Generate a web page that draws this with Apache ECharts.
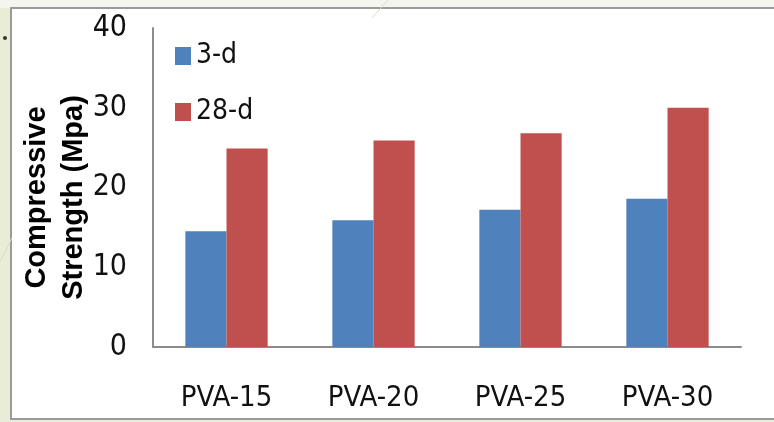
<!DOCTYPE html>
<html>
<head>
<meta charset="utf-8">
<script src="https://cdn.jsdelivr.net/npm/echarts@6/dist/echarts.min.js"></script>
<style>
  html, body { margin: 0; padding: 0; background: #eceedc; }
  #chart { width: 774px; height: 422px; }
</style>
</head>
<body>
<div id="chart"></div>
<script>
var categories = ['PVA-15', 'PVA-20', 'PVA-25', 'PVA-30'];
var day3 = [14.5, 15.9, 17.2, 18.6];
var day28 = [24.9, 25.9, 26.8, 30.0];

var font = '"Liberation Sans Narrow", "DejaVu Sans Condensed", "Liberation Sans", sans-serif';

var chart = echarts.init(document.getElementById('chart'));

var option = {
  backgroundColor: '#e9edd8',
  animation: false,
  graphic: [
    { type: 'rect', shape: { x: 0, y: 0, width: 774, height: 8 }, style: { fill: '#f4f5ec' }, z: -2 },
    { type: 'line', shape: { x1: 388, y1: 0, x2: 372, y2: 18 }, style: { stroke: '#d9dcc4', lineWidth: 1 } },
    { type: 'line', shape: { x1: 12, y1: 238, x2: 0, y2: 262 }, style: { stroke: '#d9dcc4', lineWidth: 1 } },
    { type: 'rect', shape: { x: 11, y: 8, width: 800, height: 411 }, style: { fill: '#ffffff', stroke: '#9a9a9a', lineWidth: 2 }, z: -1 },
    { type: 'circle', shape: { cx: 5, cy: 38, r: 2 }, style: { fill: '#333' } }
  ],
  grid: {
    top: 28,
    right: 33,
    bottom: 75,
    left: 153,
    outerBoundsMode: 'none'
  },
  legend: {
    orient: 'vertical',
    left: 170,
    top: 37,
    itemWidth: 16,
    itemHeight: 18,
    itemGap: 28,
    icon: 'rect',
    textStyle: { fontFamily: font, fontSize: 28, color: '#111' },
    data: ['3-d', '28-d']
  },
  xAxis: {
    type: 'category',
    data: categories,
    axisLine: { lineStyle: { color: '#8c8c8c', width: 2 } },
    axisTick: { show: false },
    axisLabel: { fontFamily: font, fontSize: 29, color: '#111', margin: 37 }
  },
  yAxis: {
    type: 'value',
    min: 0,
    max: 40,
    interval: 10,
    name: 'Compressive\nStrength (Mpa)',
    nameLocation: 'middle',
    nameGap: 61,
    nameMoveOverlap: false,
    nameTextStyle: { fontFamily: '"Liberation Sans", sans-serif', fontWeight: 'bold', fontSize: 29, lineHeight: 37, color: '#000', padding: [0, 20, 0, 0] },
    axisLine: { show: true, lineStyle: { color: '#8c8c8c', width: 2 } },
    axisTick: { show: false },
    splitLine: { show: false },
    axisLabel: { fontFamily: font, fontSize: 30, color: '#111', margin: 26 }
  },
  series: [
    { name: '3-d', type: 'bar', data: day3, itemStyle: { color: '#4f81bd' }, barGap: '0%', barCategoryGap: '44%' },
    { name: '28-d', type: 'bar', data: day28, itemStyle: { color: '#c0504d' }, barGap: '0%', barCategoryGap: '44%' }
  ]
};

chart.setOption(option);
window.addEventListener('resize', function () {
  chart.resize();
});
</script>
</body>
</html>
